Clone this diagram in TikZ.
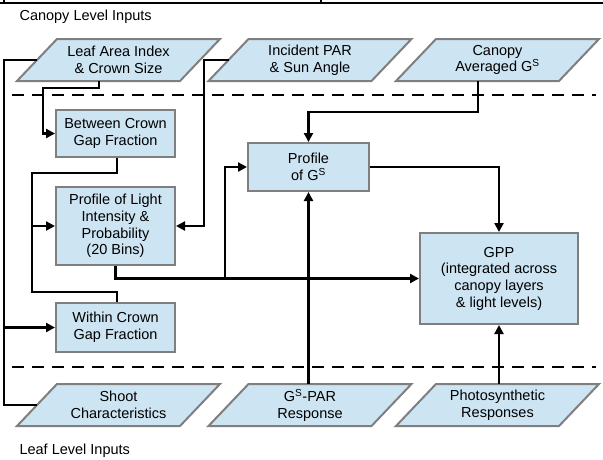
\documentclass[tikz,border=0pt]{standalone}
\usepackage{fontspec}
\setmainfont{Liberation Sans}
\usetikzlibrary{arrows.meta}
\definecolor{boxfill}{HTML}{CDE4F3}
\definecolor{boxline}{HTML}{7F7F7F}
\newcommand\paranode[4]{%
  \filldraw[parashape] ({#2-61.5},{#3-21}) -- ({#2+101.5},{#3-21}) -- ({#2+61.5},{#3+21}) -- ({#2-101.5},{#3+21}) -- cycle;
  \node[paratext] (#1) at (#2,#3) {#4};
  \coordinate (#1-w) at ({#2-81.5},#3);
}
\tikzset{
  txt/.style={font=\fontsize{14.5}{16.7}\selectfont},
  parashape/.style={fill=boxfill, draw=boxline, line width=2pt, line join=miter},
  paratext/.style={txt, align=center, minimum height=42pt, inner sep=0pt},
  box/.style={txt, align=center, fill=boxfill, draw=boxline, line width=2pt, inner sep=0pt},
  conn/.style={line width=2.3pt, black},
  arr/.style={conn, -{Triangle[length=9pt,width=9pt]}},
  sep/.style={line width=2.3pt, dash pattern=on 12pt off 8pt},
}
\begin{document}
\begin{tikzpicture}[x=1pt,y=-1pt]
\useasboundingbox (0,0) rectangle (603,459);
% top border
\draw[line width=2.3pt] (0,3) -- (603,3);
\draw[line width=2pt] (4,0) -- (4,3);
\draw[line width=2pt] (321,0) -- (321,3);
\node[txt, anchor=west] (ctitle) at (16,16.5) {Canopy Level Inputs};
\node[txt, anchor=west] (ltitle) at (16,451) {Leaf Level Inputs};
% separators
\coordinate (s1a) at (12,95); \coordinate (s1b) at (596,95);
\coordinate (s2a) at (12,367); \coordinate (s2b) at (596,367);
\draw[sep] (s1a) -- (s1b);
\draw[sep] (s2a) -- (s2b);
% inputs
\paranode{lai}{118.5}{60}{Leaf Area Index\\\& Crown Size}
\paranode{par}{310}{60}{Incident PAR\\\& Sun Angle}
\paranode{cag}{497.5}{60}{Canopy\\Averaged G\textsuperscript{S}}
\paranode{sc}{118.5}{405}{Shoot\\Characteristics}
\paranode{gsp}{310}{405}{G\textsuperscript{S}-PAR\\Response}
\paranode{ph}{497.5}{405}{Photosynthetic\\Responses}
% boxes
\node[box, minimum width=119pt, minimum height=47pt] (bcg) at (115.5,133.5) {Between Crown\\Gap Fraction};
\node[box, minimum width=119pt, minimum height=78pt] (pli) at (115.5,226) {Profile of Light\\Intensity \&\\Probability\\(20 Bins)};
\node[box, minimum width=119pt, minimum height=49pt] (wcg) at (115.5,327.5) {Within Crown\\Gap Fraction};
\node[box, minimum width=121pt, minimum height=48pt] (pgs) at (308.5,167) {Profile\\of G\textsuperscript{S}};
\node[box, minimum width=158pt, minimum height=91pt] (gpp) at (499,278.5) {GPP\\(integrated across\\canopy layers\\\& light levels)};
% connectors
\draw[arr] ([xshift=-19.5pt]lai.south) -- ++(0,7) -| (43,133.5) -- (bcg.west);
\draw[conn] ([xshift=1.5pt]bcg.south) -- ++(0,15) -| (32,292) -| ([xshift=1.5pt]wcg.north);
\draw[arr] (32,226) -- (pli.west);
\draw[conn] (lai-w) -| (4,405) -- (sc-w);
\draw[arr] (4,327.5) -- (wcg.west);
\draw[arr] (par-w) -| (204,226) -- (pli.east);
\draw[arr] (pli.south) |- (gpp.west);
\draw[arr] (225,278.5) |- (pgs.west);
\draw[arr] ([xshift=-19.5pt]cag.south) |- (308.5,112) -- (pgs.north);
\draw[arr] (pgs.east) -| (gpp.north);
\draw[arr] (pgs.south |- gsp.north) -- (pgs.south);
\draw[arr] (gpp.south |- ph.north) -- (gpp.south);
\end{tikzpicture}
\end{document}
